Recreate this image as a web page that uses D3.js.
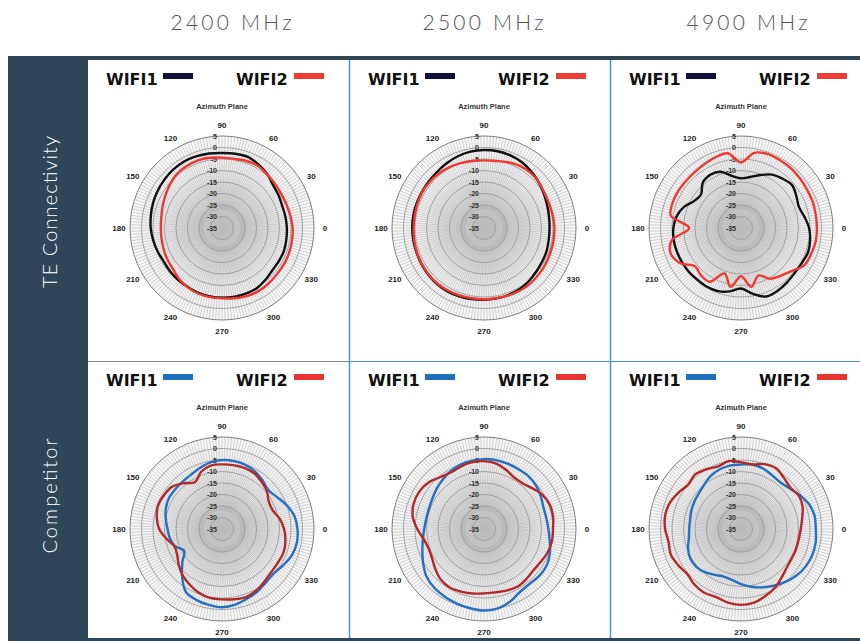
<!DOCTYPE html>
<html>
<head>
<meta charset="utf-8">
<script src="https://cdn.jsdelivr.net/npm/d3@7"></script>
<style>
  body { margin: 0; background: #fff; }
  svg { display: block; }
</style>
</head>
<body>
<svg id="chart" width="860" height="641"></svg>
<script>
//dimensions of the svg
var width = 860, height = 641;

//column / row headers
var frequencies = ['2400 MHz', '2500 MHz', '4900 MHz'];
var vendors = ['TE Connectivity', 'Competitor'];
var seriesNames = ['WIFI1', 'WIFI2'];

//polar axes
var angles = [0,10,20,30,40,50,60,70,80,90,100,110,120,130,140,150,160,170,
              180,190,200,210,220,230,240,250,260,270,280,290,300,310,320,330,340,350];
var angleTicks = [0,30,60,90,120,150,180,210,240,270,300,330];
var dbTicks = [5,0,-5,-10,-15,-20,-25,-30,-35];

//gain in dB, one value per angle
var te2400Wifi1 = [-6.8,-7.0,-7.1,-6.6,-6.0,-4.4,-3.2,-2.1,-2.2,-2.4,-2.1,-1.9,-1.7,-1.9,-2.3,-2.7,-3.1,-3.6,
                   -4.0,-4.6,-5.2,-5.8,-5.6,-5.5,-5.4,-5.0,-4.8,-4.7,-4.6,-4.6,-4.8,-5.6,-6.4,-6.4,-6.3,-6.6];
var te2400Wifi2 = [-4.3,-4.8,-5.2,-5.3,-5.0,-4.6,-3.8,-4.0,-4.5,-4.4,-4.0,-3.8,-4.0,-4.4,-5.5,-6.6,-7.5,-8.2,
                   -8.4,-8.3,-8.0,-7.6,-7.2,-6.0,-5.2,-4.7,-4.5,-4.4,-4.0,-3.5,-3.3,-3.5,-3.8,-3.8,-3.9,-4.1];
var te2500Wifi1 = [-6.5,-6.3,-5.8,-5.0,-4.0,-3.0,-2.0,-1.4,-1.1,-1.1,-1.3,-1.8,-2.5,-3.2,-3.6,-3.8,-3.8,-3.8,
                   -3.8,-3.8,-3.8,-3.6,-3.4,-3.2,-3.2,-3.4,-3.6,-3.8,-3.9,-4.0,-4.2,-4.8,-5.4,-5.8,-6.0,-6.4];
var te2500Wifi2 = [-4.4,-4.6,-4.8,-4.6,-4.0,-3.6,-3.8,-4.6,-5.4,-5.6,-5.4,-5.0,-4.6,-4.2,-4.0,-4.0,-4.2,-4.4,
                   -4.4,-4.2,-4.0,-3.8,-3.6,-3.5,-3.6,-3.8,-4.0,-4.0,-4.0,-3.8,-3.6,-3.6,-3.8,-4.0,-4.2,-4.3];
var te4900Wifi1 = [-5.4,-7.0,-8.2,-7.2,-6.0,-7.0,-8.2,-10.5,-12.5,-13.4,-12.0,-9.0,-8.3,-9.2,-12.3,-11.5,-8.5,-6.5,
                   -5.6,-5.3,-5.3,-5.4,-5.4,-5.6,-5.5,-5.8,-7.0,-8.7,-6.0,-3.3,-3.4,-4.0,-4.6,-4.5,-4.0,-4.5];
var te4900Wifi2 = [-2.0,-2.0,-1.8,-1.8,-1.5,-1.2,-1.0,-0.8,-1.8,-6.5,-2.0,-2.3,-3.0,-3.4,-3.5,-3.3,-3.3,-4.0,
                   -12.5,-4.5,-2.5,-4.5,-9.0,-8.0,-8.0,-14.0,-9.0,-14.0,-9.0,-13.0,-9.5,-8.0,-6.0,-3.0,-2.5,-2.0];
var comp2400Wifi1 = [-2.2,-3.0,-5.0,-7.3,-8.7,-7.5,-6.2,-5.3,-5.0,-5.0,-5.6,-6.8,-7.8,-8.2,-8.3,-8.3,-9.0,-10.2,
                     -11.3,-12.0,-13.2,-16.0,-12.5,-8.0,-3.5,-2.2,-1.5,-1.0,-1.6,-2.8,-3.8,-5.0,-5.3,-4.0,-2.5,-1.9];
var comp2400Wifi2 = [-8.0,-9.5,-11.5,-11.5,-9.5,-8.2,-7.0,-6.7,-6.8,-6.9,-7.0,-8.5,-11.5,-9.0,-6.5,-5.8,-5.4,-6.2,
                     -7.7,-10.5,-13.0,-12.5,-10.5,-8.5,-7.0,-5.5,-4.6,-4.4,-4.0,-3.6,-4.5,-5.8,-6.6,-6.6,-6.4,-7.0];
var comp2500Wifi1 = [-7.0,-7.5,-7.5,-6.5,-5.5,-5.0,-5.0,-4.8,-4.6,-4.6,-4.8,-5.2,-6.0,-7.0,-8.0,-9.0,-9.5,-9.5,
                     -9.0,-8.0,-6.5,-4.5,-2.5,-1.5,-1.0,-0.5,0.0,0.5,0.0,-1.5,-3.5,-4.0,-3.5,-3.5,-4.5,-6.0];
var comp2500Wifi2 = [-5.0,-4.5,-4.5,-5.5,-7.5,-9.0,-9.0,-7.5,-6.0,-5.5,-5.5,-6.0,-6.5,-5.5,-3.5,-2.5,-2.5,-3.5,
                     -6.0,-8.5,-9.5,-9.0,-7.5,-6.0,-5.5,-6.0,-6.5,-7.0,-7.0,-6.5,-6.0,-6.5,-7.0,-6.5,-5.5,-5.0];
var comp4900Wifi1 = [-2.5,-2.5,-3.5,-5.5,-7.5,-8.5,-8.0,-7.0,-6.5,-7.0,-7.0,-7.5,-8.5,-10.0,-11.0,-11.5,-12.0,-12.5,
                     -12.5,-12.0,-10.5,-9.5,-9.5,-10.5,-12.0,-13.0,-12.5,-11.0,-9.5,-8.0,-6.5,-5.0,-3.5,-2.5,-2.0,-2.0];
var comp4900Wifi2 = [-9.0,-8.0,-6.5,-6.0,-7.0,-6.0,-4.5,-5.0,-6.5,-6.0,-5.0,-6.0,-5.0,-4.0,-5.0,-3.5,-2.0,-1.5,
                     -2.0,-3.0,-2.5,-3.5,-4.5,-3.5,-3.0,-3.5,-2.5,-2.0,-2.5,-4.0,-5.5,-7.5,-9.0,-9.5,-9.5,-9.5];

//colours per vendor: [wifi1, wifi2]
var swatchColors = [['#10123a', '#ef3b36'], ['#1f6fc0', '#e8352f']];
var curveColors = [['#111111', '#f0382e'], ['#2570c2', '#b3292b']];

//panel table built from the arrays above
var panels = [
  {row: 0, col: 0, series: [te2400Wifi1, te2400Wifi2]},
  {row: 0, col: 1, series: [te2500Wifi1, te2500Wifi2]},
  {row: 0, col: 2, series: [te4900Wifi1, te4900Wifi2]},
  {row: 1, col: 0, series: [comp2400Wifi1, comp2400Wifi2]},
  {row: 1, col: 1, series: [comp2500Wifi1, comp2500Wifi2]},
  {row: 1, col: 2, series: [comp4900Wifi1, comp4900Wifi2]}
];

var colLeft = [88, 350, 611];
var colCenter = [222, 484, 741];
var rowTop = [60, 361];
var R = 92;
var slate = '#2f4658';

var svg = d3.select('#chart');

//radial gradient for the polar disk
var grad = svg.append('defs').append('radialGradient').attr('id', 'disk');
[[0, '#b9b9b9'], [0.24, '#c6c6c6'], [0.27, '#d6d6d6'], [0.5, '#e4e4e4'], [0.7, '#f0f0f0'], [1, '#f8f8f8']]
  .forEach(function(s) {
    grad.append('stop').attr('offset', s[0]).attr('stop-color', s[1]);
  });

//column titles
svg.selectAll('text.freq')
  .data(frequencies)
  .enter().append('text')
  .attr('class', 'freq')
  .attr('x', function(d, i) { return [231, 483, 747][i]; })
  .attr('y', 30)
  .attr('text-anchor', 'middle')
  .attr('textLength', 121)
  .attr('lengthAdjust', 'spacing')
  .style('font-family', 'Lato, "Open Sans", sans-serif')
  .style('font-weight', 300)
  .style('font-size', '21px')
  .style('fill', '#555')
  .text(function(d) { return d; });

//header rule and side bar
svg.append('rect').attr('x', 8).attr('y', 56).attr('width', 852).attr('height', 4).attr('fill', slate);
svg.append('rect').attr('x', 8).attr('y', 56).attr('width', 80).attr('height', 585).attr('fill', slate);

svg.selectAll('text.vendor')
  .data(vendors)
  .enter().append('text')
  .attr('class', 'vendor')
  .attr('transform', function(d, i) { return 'translate(57,' + [212, 496][i] + ') rotate(-90)'; })
  .attr('text-anchor', 'middle')
  .attr('textLength', function(d, i) { return [152, 115][i]; })
  .attr('lengthAdjust', 'spacing')
  .style('font-family', 'Lato, "Open Sans", sans-serif')
  .style('font-weight', 300)
  .style('font-size', '20px')
  .style('fill', '#fff')
  .text(function(d) { return d; });

//dividers
svg.append('line').attr('x1', 88).attr('x2', 349).attr('y1', 361.5).attr('y2', 361.5)
  .attr('stroke', '#888').attr('stroke-width', 1.2);
svg.append('line').attr('x1', 350).attr('x2', 860).attr('y1', 361.5).attr('y2', 361.5)
  .attr('stroke', '#3d9ad8').attr('stroke-width', 1.2);
[349.5, 610.5].forEach(function(x) {
  svg.append('line').attr('x1', x).attr('x2', x).attr('y1', 60).attr('y2', 641)
    .attr('stroke', '#3d9ad8').attr('stroke-width', 1.5);
});
svg.append('rect').attr('x', 88).attr('y', 638).attr('width', 772).attr('height', 3).attr('fill', slate);

var rScale = d3.scaleLinear().domain([-35, 5]).range([0, R]);
//0 deg at the right, counter-clockwise
var aScale = d3.scaleLinear().domain([0, 360]).range([Math.PI / 2, Math.PI / 2 - 2 * Math.PI]);

var spokes = d3.range(0, 360, 2);

panels.forEach(function(p) {
  var cx = colCenter[p.col], cy = rowTop[p.row] + 168;
  var left = colLeft[p.col], top = rowTop[p.row];
  var g = svg.append('g');

  //legend
  seriesNames.forEach(function(name, i) {
    g.append('text')
      .attr('x', left + [18, 148][i])
      .attr('y', top + 25)
      .style('font-family', '"DejaVu Sans", sans-serif')
      .style('font-weight', 'bold')
      .style('font-size', '16px')
      .style('fill', '#111')
      .text(name);
    g.append('rect')
      .attr('x', left + [75, 206][i])
      .attr('y', top + 13)
      .attr('width', 30)
      .attr('height', 6)
      .attr('fill', swatchColors[p.row][i]);
  });

  g.append('text')
    .attr('x', cx).attr('y', top + 49)
    .attr('text-anchor', 'middle')
    .style('font-family', '"Liberation Sans", Arial, sans-serif')
    .style('font-weight', 'bold')
    .style('font-size', '7.5px')
    .style('fill', '#333')
    .text('Azimuth Plane');

  var polar = g.append('g').attr('transform', 'translate(' + cx + ',' + cy + ')');

  polar.append('circle').attr('r', R).attr('fill', 'url(#disk)');

  polar.selectAll('line.spoke')
    .data(spokes)
    .enter().append('line')
    .attr('class', 'spoke')
    .attr('x1', function(d) { return rScale(-27) * Math.sin(aScale(d)); })
    .attr('y1', function(d) { return -rScale(-27) * Math.cos(aScale(d)); })
    .attr('x2', function(d) { return R * Math.sin(aScale(d)); })
    .attr('y2', function(d) { return -R * Math.cos(aScale(d)); })
    .attr('stroke', '#b4b4b4')
    .attr('stroke-width', 0.55);

  polar.selectAll('circle.ring')
    .data(dbTicks)
    .enter().append('circle')
    .attr('class', 'ring')
    .attr('r', function(d) { return rScale(d); })
    .attr('fill', 'none')
    .attr('stroke', function(d) { return d === 5 ? '#808080' : '#9c9c9c'; })
    .attr('stroke-width', function(d) { return d === 5 ? 1 : 0.9; });

  polar.selectAll('text.angle')
    .data(angleTicks)
    .enter().append('text')
    .attr('class', 'angle')
    .attr('x', function(d) { return 103 * Math.sin(aScale(d)); })
    .attr('y', function(d) { return -103 * Math.cos(aScale(d)); })
    .attr('text-anchor', 'middle')
    .attr('dominant-baseline', 'central')
    .style('font-family', '"Liberation Sans", Arial, sans-serif')
    .style('font-weight', 'bold')
    .style('font-size', '8px')
    .style('fill', '#222')
    .text(function(d) { return d; });

  polar.selectAll('text.db')
    .data(dbTicks)
    .enter().append('text')
    .attr('class', 'db')
    .attr('x', -5)
    .attr('y', function(d) { return -rScale(d); })
    .attr('text-anchor', 'end')
    .attr('dominant-baseline', 'central')
    .style('font-family', '"Liberation Sans", Arial, sans-serif')
    .style('font-weight', 'bold')
    .style('font-size', '7px')
    .style('fill', '#333')
    .text(function(d) { return d; });

  var line = d3.lineRadial()
    .angle(function(d, i) { return aScale(angles[i]); })
    .radius(function(d) { return rScale(d); })
    .curve(d3.curveCatmullRomClosed.alpha(0.5));

  p.series.forEach(function(vals, i) {
    polar.append('path')
      .attr('d', line(vals))
      .attr('fill', 'none')
      .attr('stroke', curveColors[p.row][i])
      .attr('stroke-width', 2.4);
  });
});
</script>
</body>
</html>
